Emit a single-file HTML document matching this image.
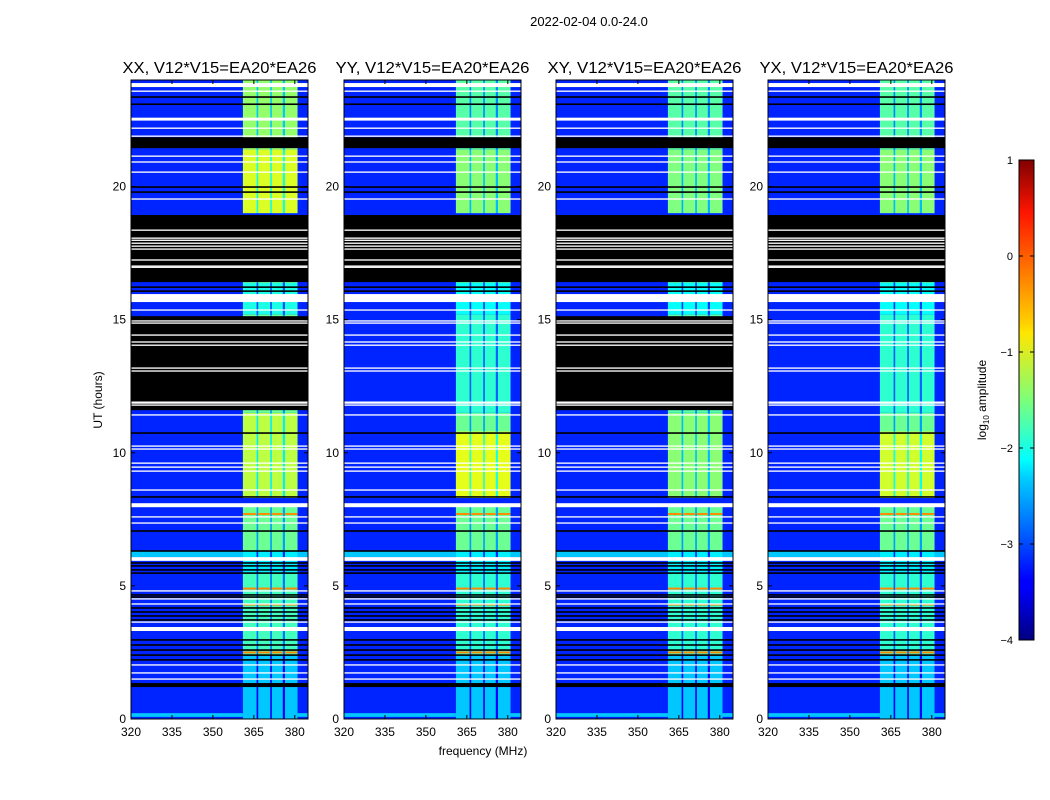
<!DOCTYPE html>
<html><head><meta charset="utf-8"><style>
body{margin:0;background:#fff;}
svg{display:block;font-family:"Liberation Sans",sans-serif;}
</style></head><body>
<svg id="fig" width="1050" height="800" viewBox="0 0 1050 800">
<defs>
<linearGradient id="jet" x1="0" y1="1" x2="0" y2="0">
<stop offset="0" stop-color="#000080"/><stop offset="0.11" stop-color="#0000ff"/>
<stop offset="0.125" stop-color="#0000ff"/><stop offset="0.34" stop-color="#00d0ff"/>
<stop offset="0.375" stop-color="#00ffff"/><stop offset="0.5" stop-color="#7dff7a"/>
<stop offset="0.64" stop-color="#ffe600"/><stop offset="0.66" stop-color="#ffd000"/>
<stop offset="0.89" stop-color="#ff1500"/><stop offset="1" stop-color="#800000"/>
</linearGradient>
</defs>
<text x="589" y="26" font-size="13" text-anchor="middle">2022-02-04 0.0-24.0</text>
<text x="483" y="755" font-size="12" text-anchor="middle">frequency (MHz)</text>
<text transform="translate(102,400) rotate(-90)" font-size="12" text-anchor="middle">UT (hours)</text>
<g id="panels"></g>
<g>
<rect x="1019" y="160" width="15" height="480" fill="url(#jet)" stroke="#000" stroke-width="1"/>
<g id="cbticks"></g>
<text transform="translate(986,400) rotate(-90)" font-size="12" text-anchor="middle">log<tspan font-size="8" dy="3">10</tspan><tspan dy="-3"> amplitude</tspan></text>
</g>
</svg>
<script>
// ---- data ----
const panelTitles = ["XX, V12*V15=EA20*EA26","YY, V12*V15=EA20*EA26","XY, V12*V15=EA20*EA26","YX, V12*V15=EA20*EA26"];
const freqTicks = [320,335,350,365,380];
const timeTicks = [0,5,10,15,20];
const cbTicks = [1,0,-1,-2,-3,-4];
const backgroundLevel = -3.2;
// RFI sub-bands (MHz)
const rfiBands = [[361,366],[366.6,371],[371.6,375.6],[376.4,381]];
// RFI level per time segment [startH, endH, log10 amp] per panel
const rfiXX = [[0,2.4,-2.4],[2.4,5.5,-1.8],[5.5,6.3,-2.2],[6.3,8.0,-1.6],[8.3,11.5,-1.2],[11.5,15.2,-1.6],[15.2,16.4,-2.0],[16.4,16.6,-0.9],[19,21.4,-1.05],[21.4,24,-1.4]];
const rfiYY = [[0,2.4,-2.4],[2.4,5.5,-1.9],[5.5,6.3,-2.2],[6.3,8.0,-1.6],[8.3,10.8,-1.0],[10.8,11.5,-1.6],[11.5,15.2,-1.9],[15.2,16.4,-2.1],[16.4,16.6,-1.0],[19,21.4,-1.45],[21.4,24,-1.7]];
const rfiXY = [[0,2.4,-2.4],[2.4,5.5,-1.9],[5.5,6.3,-2.2],[6.3,8.0,-1.6],[8.3,11.5,-1.45],[11.5,15.2,-1.7],[15.2,16.4,-2.1],[16.4,16.6,-1.0],[19,21.4,-1.5],[21.4,24,-1.7]];
const rfiYX = [[0,2.4,-2.4],[2.4,5.5,-1.9],[5.5,6.3,-2.2],[6.3,8.0,-1.6],[8.3,10.8,-1.1],[10.8,11.5,-1.6],[11.5,15.2,-1.9],[15.2,16.4,-2.1],[16.4,16.6,-1.0],[19,21.4,-1.45],[21.4,24,-1.7]];
const rfiSeries = [rfiXX,rfiYY,rfiXY,rfiYX];
// strong RFI lines (hours)
const hotLines = [7.7,4.9,4.3,2.5];
// brighter background bands
const cyanBands = [[6.08,6.3],[0.08,0.22]];
// flagged (black) bands common to all panels
const blackBands = [[21.44,21.85],[16.41,18.93],[1.2,1.35]];
// extra black band only in XX/XY
const blackBandsXXXY = [[11.6,15.13]];
// thin black lines (hours)
const blackLines = [23.36,23.09,19.98,19.79,16.22,16.07,10.74,8.34,7.06,6.31,5.86,5.75,5.6,5.48,4.66,4.58,4.17,4.02,3.87,3.72,2.97,2.78,2.59,2.4,2.22];
// white flagged lines [hour, thickness hours]
const whiteLines = [[23.81,0.15],[23.58,0.05],[22.53,0.11],[22.19,0.05],[21.89,0.05],[21.14,0.05],[20.92,0.05],[20.54,0.05],[19.53,0.05],
 [18.36,0.05],[18.06,0.05],[17.98,0.05],[17.87,0.05],[17.76,0.05],[17.65,0.05],[17.24,0.05],[17.01,0.05],[16.97,0.04],
 [15.81,0.3],[15.36,0.05],[14.95,0.05],[14.87,0.05],[14.42,0.05],[14.16,0.05],[14.04,0.05],[13.18,0.05],[13.07,0.05],
 [11.9,0.05],[11.87,0.04],[11.79,0.05],[11.42,0.05],[10.25,0.05],[10.14,0.05],[9.61,0.05],[9.46,0.05],[9.31,0.05],[8.6,0.05],
 [8.03,0.15],[7.59,0.05],[7.36,0.05],[6.01,0.14],[4.81,0.05],[4.51,0.05],[4.32,0.05],[3.64,0.05],[3.38,0.15],[2.03,0.05],[1.73,0.05],[1.5,0.05]];

// ---- rendering ----
const NS="http://www.w3.org/2000/svg";
const panelX=[131,344,556,768], PW=177, PT=80, PB=719;
const F0=320, F1=320+177/2.73, T0=0, T1=24;
function jet(l){const v=Math.max(0,Math.min(1,(l+4)/5));const c=t=>Math.round(255*Math.max(0,Math.min(1,1.5-Math.abs(4*v-t))));return `rgb(${c(3)},${c(2)},${c(1)})`;}
function mk(tag,attrs,parent){const e=document.createElementNS(NS,tag);for(const k in attrs)e.setAttribute(k,attrs[k]);parent.appendChild(e);return e;}
const root=document.getElementById('panels');
panelX.forEach((x0,i)=>{
  const xs=f=>x0+(f-F0)/(F1-F0)*PW;
  const ys=h=>PB-(h-T0)/(T1-T0)*(PB-PT);
  const g=mk('g',{},root);
  
  
  const cp=mk('clipPath',{id:'cp'+i},g); mk('rect',{x:x0,y:PT,width:PW,height:PB-PT},cp);
  const d=mk('g',{'clip-path':`url(#cp${i})`},g);
  const bg=mk('rect',{x:x0,y:PT,width:PW,height:PB-PT,fill:jet(backgroundLevel)},d);
   
  cyanBands.forEach(b=>{const r=mk('rect',{x:x0,y:ys(b[1]),width:PW,height:ys(b[0])-ys(b[1]),fill:jet(-2.4)},d);
     });
  rfiSeries[i].forEach(s=>{
    const gr=mk('rect',{x:xs(rfiBands[0][0]),y:ys(s[1]),width:xs(rfiBands[3][1])-xs(rfiBands[0][0]),height:ys(s[0])-ys(s[1]),fill:jet(s[2]-1.0)},d);
     
    rfiBands.forEach(b=>{const r=mk('rect',{x:xs(b[0]),y:ys(s[1]),width:xs(b[1])-xs(b[0]),height:ys(s[0])-ys(s[1]),fill:jet(s[2])},d);
       });
  });
  hotLines.forEach(h=>rfiBands.forEach(b=>{const r=mk('rect',{x:xs(b[0]),y:ys(h)-1,width:xs(b[1])-xs(b[0]),height:2,fill:jet(-0.3)},d);
     }));
  const bb=blackBands.concat((i===0||i===2)?blackBandsXXXY:[]);
  bb.forEach(b=>{const r=mk('rect',{x:x0,y:ys(b[1]),width:PW,height:ys(b[0])-ys(b[1]),fill:'#000'},d);
     });
  blackLines.forEach(h=>{const r=mk('rect',{x:x0,y:ys(h)-0.8,width:PW,height:1.6,fill:'#000'},d);
     });
  whiteLines.forEach(w=>{const r=mk('rect',{x:x0,y:ys(w[0]+w[1]/2),width:PW,height:Math.max(1.3,w[1]/24*(PB-PT)),fill:'#fff'},d);
     });
  const fr=mk('rect',{x:x0,y:PT,width:PW,height:PB-PT,fill:'none',stroke:'#000','stroke-width':1},g);
   
  const t=mk('text',{x:x0+PW/2,y:73,'font-size':15.5,'text-anchor':'middle',textLength:194,lengthAdjust:'spacingAndGlyphs'},g); t.textContent=panelTitles[i];
   
  freqTicks.forEach(f=>{const X=xs(f);
    mk('line',{x1:X,x2:X,y1:PB,y2:PB-4,stroke:'#000'},g); mk('line',{x1:X,x2:X,y1:PT,y2:PT+4,stroke:'#000'},g);
    const l=mk('text',{x:X,y:PB+17,'font-size':12,'text-anchor':'middle'},g); l.textContent=f;
     });
  timeTicks.forEach(h=>{const Y=ys(h);
    mk('line',{x1:x0,x2:x0+4,y1:Y,y2:Y,stroke:'#000'},g); mk('line',{x1:x0+PW,x2:x0+PW-4,y1:Y,y2:Y,stroke:'#000'},g);
    const l=mk('text',{x:x0-5,y:Y+4,'font-size':12,'text-anchor':'end'},g); l.textContent=h;
     });
});
const cb=document.getElementById('cbticks');
cbTicks.forEach(v=>{const Y=640-(v+4)/5*480;
  mk('line',{x1:1019,x2:1023,y1:Y,y2:Y,stroke:'#000'},cb); mk('line',{x1:1034,x2:1030,y1:Y,y2:Y,stroke:'#000'},cb);
  const l=mk('text',{x:1013,y:Y+4,'font-size':11,'text-anchor':'end'},cb); l.textContent=v<0?'\u2212'+(-v):String(v);
   });
</script>
</body></html>
